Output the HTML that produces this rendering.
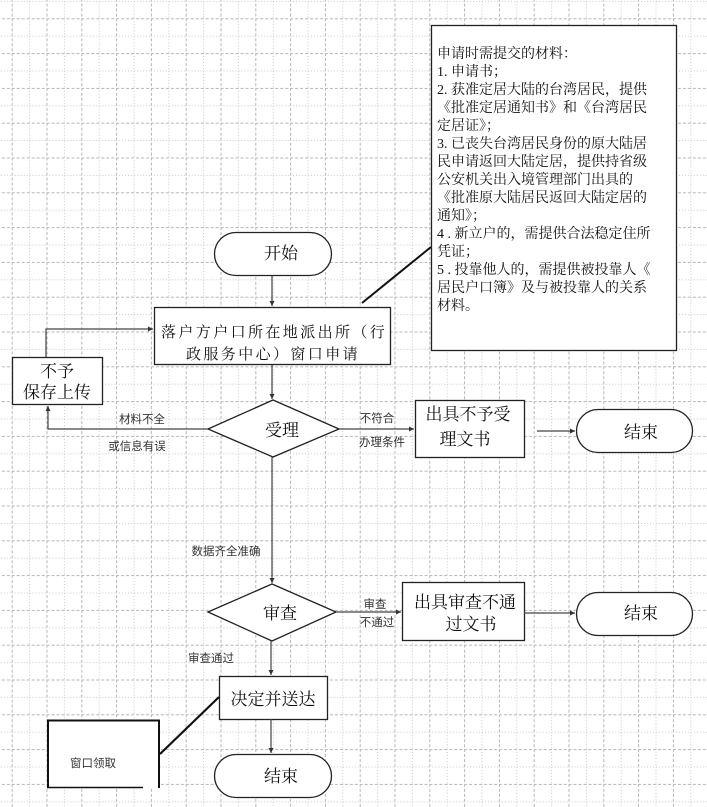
<!DOCTYPE html>
<html><head><meta charset="utf-8"><style>
html,body{margin:0;padding:0;background:#fff;}
svg{display:block;}
.s{font-family:"Liberation Serif","Noto Serif CJK SC",serif;fill:#111;}
.g{font-family:"Liberation Sans","Noto Sans CJK SC",sans-serif;fill:#333;}
</style></head><body>
<svg width="707" height="807" viewBox="0 0 707 807" xmlns="http://www.w3.org/2000/svg">
<defs>
<pattern id="gp" x="11.7" y="18.3" width="34.8" height="34.8" patternUnits="userSpaceOnUse">
<line x1="0.5" y1="0" x2="0.5" y2="34.8" stroke="#b5b5b5" stroke-width="1" stroke-dasharray="3,2"/>
<line x1="17.9" y1="0" x2="17.9" y2="34.8" stroke="#c8c8c8" stroke-width="1" stroke-dasharray="1,2"/>
<line x1="0" y1="0.5" x2="34.8" y2="0.5" stroke="#b5b5b5" stroke-width="1" stroke-dasharray="3,2"/>
<line x1="0" y1="17.9" x2="34.8" y2="17.9" stroke="#c8c8c8" stroke-width="1" stroke-dasharray="1,2"/>
</pattern>
<marker id="a" markerWidth="6" markerHeight="6" refX="5" refY="3" orient="auto" markerUnits="userSpaceOnUse">
<path d="M0,0.5 L5,3 L0,5.5 z" fill="#333"/>
</marker>
</defs>
<rect width="707" height="807" fill="#fff"/>
<rect width="707" height="807" fill="url(#gp)"/>

<g stroke="#222" fill="#fff" stroke-width="1.3">
<!-- note box -->
<rect x="431.5" y="25.5" width="245" height="325"/>
<!-- start -->
<rect x="214.5" y="232.5" width="117" height="43" rx="21.5"/>
<!-- main box -->
<rect x="154.5" y="307.5" width="236" height="57"/>
<!-- 不予 -->
<rect x="12.5" y="357.5" width="90" height="47"/>
<!-- diamond 受理 -->
<path d="M208,429 L273,400 L339,429 L273,457 Z"/>
<rect x="415.5" y="400.5" width="109" height="57"/>
<rect x="576.5" y="409.5" width="116" height="43" rx="21.5"/>
<!-- diamond 审查 -->
<path d="M208,612 L272,584 L336,612 L272,641 Z"/>
<rect x="402.5" y="582.5" width="122" height="58"/>
<rect x="576.5" y="592.5" width="116" height="43" rx="21.5"/>
<rect x="219.5" y="676.5" width="108" height="43"/>
<rect x="214.5" y="754.5" width="117" height="43" rx="21.5"/>
</g>
<!-- 窗口领取 box -->
<path d="M48,787 L48,720.5 L159,720.5 L159,788" fill="#fff" stroke="#111" stroke-width="2"/>
<rect x="49" y="722" width="109" height="65" fill="#fff"/>
<line x1="47" y1="787.5" x2="143" y2="787.5" stroke="#111" stroke-width="1.5"/>

<g stroke="#444" stroke-width="1.2" fill="none">
<line x1="272" y1="276" x2="272" y2="306" marker-end="url(#a)"/>
<line x1="272" y1="365" x2="272" y2="399" marker-end="url(#a)"/>
<path d="M208,429 L48,429 L48,406" marker-end="url(#a)"/>
<path d="M46,357 L46,329 L153,329" marker-end="url(#a)"/>
<line x1="339" y1="429" x2="414" y2="429" marker-end="url(#a)"/>
<line x1="537" y1="431" x2="575" y2="431" marker-end="url(#a)"/>
<line x1="272" y1="457" x2="272" y2="583" marker-end="url(#a)"/>
<line x1="336" y1="612" x2="401" y2="612" marker-end="url(#a)"/>
<line x1="524" y1="613" x2="575" y2="613" marker-end="url(#a)"/>
<line x1="271" y1="641" x2="271" y2="675" marker-end="url(#a)"/>
<line x1="271" y1="719" x2="271" y2="753" marker-end="url(#a)"/>
</g>
<line x1="431" y1="247" x2="362" y2="303" stroke="#111" stroke-width="2"/>
<line x1="160" y1="754" x2="219" y2="697" stroke="#111" stroke-width="2.2"/>

<!-- texts -->
<text class="s" x="281" y="259" font-size="17" text-anchor="middle">开始</text>
<text class="s" x="161" y="337" font-size="15" letter-spacing="2.4">落户方户口所在地派出所（行</text>
<text class="s" x="186" y="359" font-size="15" letter-spacing="2.4">政服务中心）窗口申请</text>
<text class="s" x="57" y="377" font-size="17" text-anchor="middle">不予</text>
<text class="s" x="57" y="398" font-size="17" text-anchor="middle">保存上传</text>
<text class="s" x="282" y="436" font-size="17" text-anchor="middle">受理</text>
<text class="g" x="142" y="423" font-size="11.5" text-anchor="middle">材料不全</text>
<text class="g" x="137" y="450" font-size="11.5" text-anchor="middle">或信息有误</text>
<text class="g" x="377" y="422" font-size="11.5" text-anchor="middle">不符合</text>
<text class="g" x="382" y="446" font-size="11.5" text-anchor="middle">办理条件</text>
<text class="s" x="468" y="420" font-size="17" text-anchor="middle">出具不予受</text>
<text class="s" x="465" y="445" font-size="17" text-anchor="middle">理文书</text>
<text class="s" x="641" y="438" font-size="17" text-anchor="middle">结束</text>
<text class="g" x="226" y="555" font-size="11.5" text-anchor="middle">数据齐全准确</text>
<text class="s" x="280" y="619" font-size="17" text-anchor="middle">审查</text>
<text class="g" x="375" y="608" font-size="11.5" text-anchor="middle">审查</text>
<text class="g" x="377" y="626" font-size="11.5" text-anchor="middle">不通过</text>
<text class="s" x="465" y="608" font-size="17" text-anchor="middle">出具审查不通</text>
<text class="s" x="471" y="630" font-size="17" text-anchor="middle">过文书</text>
<text class="s" x="641" y="619" font-size="17" text-anchor="middle">结束</text>
<text class="g" x="211" y="662" font-size="11.5" text-anchor="middle">审查通过</text>
<text class="s" x="273" y="705" font-size="17" text-anchor="middle">决定并送达</text>
<text class="g" x="93" y="767" font-size="11.5" text-anchor="middle">窗口领取</text>
<text class="s" x="281" y="782" font-size="17" text-anchor="middle">结束</text>

<g class="s" font-size="14">
<text x="437" y="58">申请时需提交的材料：</text>
<text x="437" y="76">1. 申请书；</text>
<text x="437" y="94">2. 获准定居大陆的台湾居民，提供</text>
<text x="437" y="112">《批准定居通知书》和《台湾居民</text>
<text x="437" y="130">定居证》；</text>
<text x="437" y="148">3. 已丧失台湾居民身份的原大陆居</text>
<text x="437" y="166">民申请返回大陆定居，提供持省级</text>
<text x="437" y="184">公安机关出入境管理部门出具的</text>
<text x="437" y="202">《批准原大陆居民返回大陆定居的</text>
<text x="437" y="220">通知》；</text>
<text x="437" y="238">4 . 新立户的，需提供合法稳定住所</text>
<text x="437" y="256">凭证；</text>
<text x="437" y="274">5 . 投靠他人的，需提供被投靠人《</text>
<text x="437" y="292">居民户口簿》及与被投靠人的关系</text>
<text x="437" y="310">材料。</text>
</g>
</svg>
</body></html>
